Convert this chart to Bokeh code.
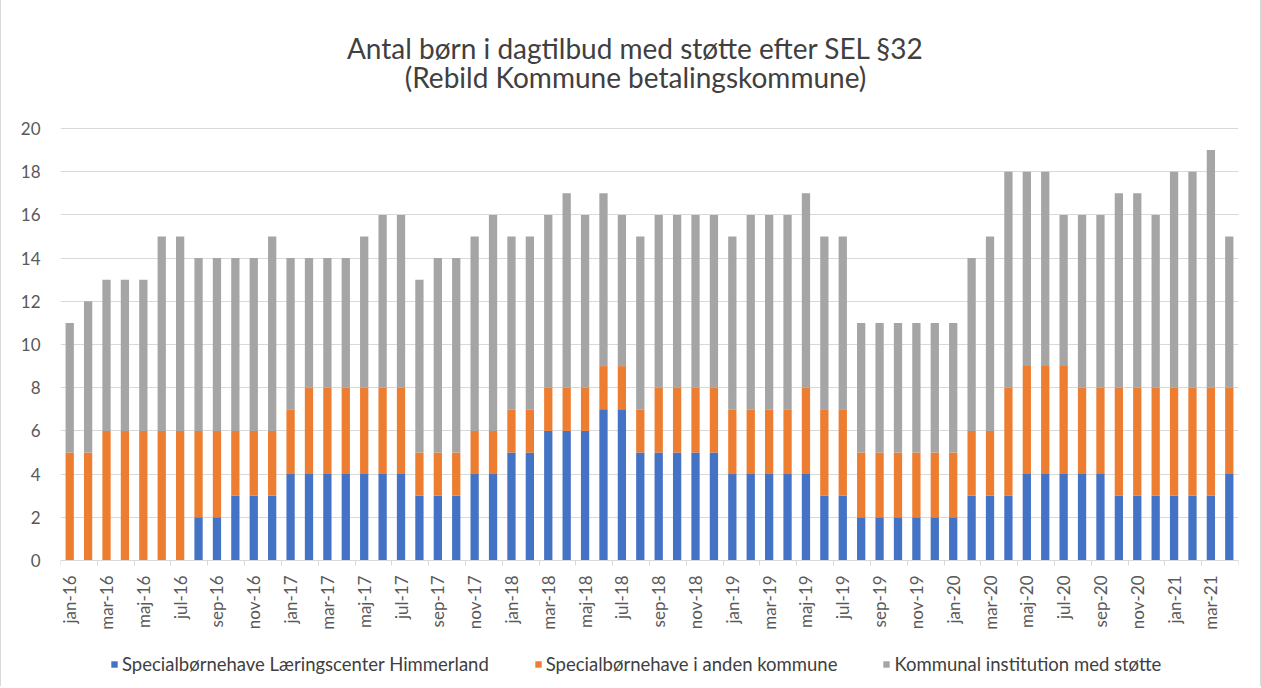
from bokeh.plotting import figure
from bokeh.models import (ColumnDataSource, FixedTicker, Range1d, Legend, LegendItem, Label)
from bokeh.embed import file_html
from bokeh.resources import INLINE

months = ["jan", "feb", "mar", "apr", "maj", "jun", "jul", "aug", "sep", "okt", "nov", "dec"]
categories = [f"{m}-{y}" for y in ["16", "17", "18", "19", "20", "21"] for m in months][:64]

title_lines = ["Antal børn i dagtilbud med støtte efter SEL §32",
               "(Rebild Kommune betalingskommune)"]
series_names = ["Specialbørnehave Læringscenter Himmerland",
                "Specialbørnehave i anden kommune",
                "Kommunal institution med støtte"]

laeringscenter = [0, 0, 0, 0, 0, 0, 0, 2, 2, 3, 3, 3,
                  4, 4, 4, 4, 4, 4, 4, 3, 3, 3, 4, 4,
                  5, 5, 6, 6, 6, 7, 7, 5, 5, 5, 5, 5,
                  4, 4, 4, 4, 4, 3, 3, 2, 2, 2, 2, 2,
                  2, 3, 3, 3, 4, 4, 4, 4, 4, 3, 3, 3,
                  3, 3, 3, 4]
anden_kommune = [5, 5, 6, 6, 6, 6, 6, 4, 4, 3, 3, 3,
                 3, 4, 4, 4, 4, 4, 4, 2, 2, 2, 2, 2,
                 2, 2, 2, 2, 2, 2, 2, 2, 3, 3, 3, 3,
                 3, 3, 3, 3, 4, 4, 4, 3, 3, 3, 3, 3,
                 3, 3, 3, 5, 5, 5, 5, 4, 4, 5, 5, 5,
                 5, 5, 5, 4]
totals = [11, 12, 13, 13, 13, 15, 15, 14, 14, 14, 14, 15,
          14, 14, 14, 14, 15, 16, 16, 13, 14, 14, 15, 16,
          15, 15, 16, 17, 16, 17, 16, 15, 16, 16, 16, 16,
          15, 16, 16, 16, 17, 15, 15, 11, 11, 11, 11, 11,
          11, 14, 15, 18, 18, 18, 16, 16, 16, 17, 17, 16,
          18, 18, 19, 15]
kommunal = [t - a - b for t, a, b in zip(totals, laeringscenter, anden_kommune)]

colors = ["#4472C4", "#ED7D31", "#A5A5A5"]
FONT = "Lato"

# layout geometry (pixels): the frame fills the whole canvas height so that the
# title and legend can live inside it; the x axis is pinned at value 0.
FRAME_H = 686
ABOVE_PX = 560          # pixels from canvas top down to the value 0
PLOT_H = 432            # pixels used by the 0..20 value scale
Y_MAX = 20
PX_PER_UNIT = PLOT_H / Y_MAX

x = list(range(len(categories)))
source = ColumnDataSource(dict(x=x, s0=laeringscenter, s1=anden_kommune, s2=kommunal))

p = figure(frame_width=1178, frame_height=FRAME_H, output_backend="svg", toolbar_location=None,
           x_range=Range1d(-0.5, len(categories) - 0.5),
           y_range=Range1d(-(FRAME_H - ABOVE_PX) / PX_PER_UNIT, ABOVE_PX / PX_PER_UNIT),
           min_border_left=59, min_border_right=22, min_border_top=0, min_border_bottom=0)
p.styles = {"border-left": "1px solid #d9d9d9", "border-right": "1px solid #d9d9d9"}

renderers = p.vbar_stack(["s0", "s1", "s2"], x="x", width=0.45, color=colors, source=source,
                         line_color=None)

# axes
p.xaxis.fixed_location = 0
p.xaxis.ticker = FixedTicker(ticks=x[::2], minor_ticks=[i - 0.5 for i in range(0, len(categories) + 1, 2)])
p.xaxis.major_label_overrides = {i: categories[i] for i in x[::2]}
p.xaxis.major_label_orientation = 1.5708
p.xaxis.major_tick_line_color = None
p.xaxis.minor_tick_line_color = "#d9d9d9"
p.xaxis.minor_tick_out = 5
p.xaxis.minor_tick_in = 0
p.xaxis.axis_line_color = "#d9d9d9"
p.xaxis.major_label_text_font = FONT
p.xaxis.major_label_text_font_size = "17px"
p.xaxis.major_label_text_color = "#595959"
p.xaxis.major_label_standoff = 9

p.yaxis.ticker = FixedTicker(ticks=list(range(0, Y_MAX + 1, 2)))
p.yaxis.axis_line_color = None
p.yaxis.major_tick_line_color = None
p.yaxis.minor_tick_line_color = None
p.yaxis.major_label_text_font = FONT
p.yaxis.major_label_text_font_size = "17px"
p.yaxis.major_label_text_color = "#595959"
p.yaxis.major_label_standoff = 14

p.xgrid.grid_line_color = None
p.ygrid.grid_line_color = "#d9d9d9"
p.outline_line_color = None

# title (two centred lines), screen units relative to the frame's bottom-left
p.title = None
shift = FRAME_H - ABOVE_PX
for txt, yy in zip(title_lines, [513 + shift, 484 + shift]):
    p.add_layout(Label(x=575, y=yy, x_units="screen", y_units="screen", text=txt,
                       text_align="center", text_baseline="alphabetic", text_font=FONT,
                       text_font_size="28px", text_color="#404040"))

legend = Legend(items=[LegendItem(label=n, renderers=[r]) for n, r in zip(series_names, renderers)],
                orientation="horizontal", location=(50, 11), spacing=45, label_standoff=4,
                glyph_width=8, glyph_height=8, label_text_font=FONT, label_text_font_size="18.5px",
                label_text_color="#404040", border_line_color=None, background_fill_alpha=0,
                margin=0, padding=4)
p.add_layout(legend)

open("out.html", "w").write(file_html(p, INLINE))
